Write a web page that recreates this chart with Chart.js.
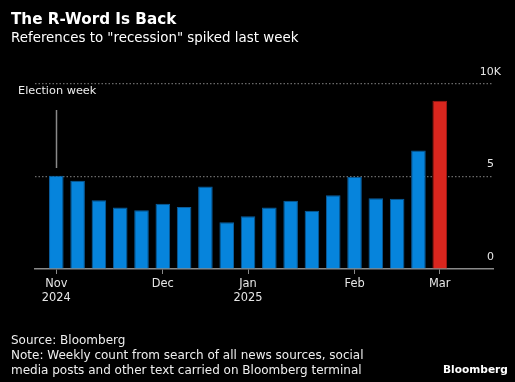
<!DOCTYPE html>
<html>
<head>
<meta charset="utf-8">
<script src="https://cdn.jsdelivr.net/npm/chart.js@4"></script>
<style>
  html, body { margin:0; padding:0; background:#000; }
  #wrap { position:relative; width:515px; height:382px; background:#000; overflow:hidden; font-family:"DejaVu Sans", sans-serif; }
  #wrap canvas { position:absolute; left:0; top:0; }
  .t { position:absolute; color:#fff; white-space:nowrap; line-height:1; }
</style>
</head>
<body>
<div id="wrap">
  <canvas id="c" width="515" height="382"></canvas>
  <div class="t" style="left:11px; top:12px; font-size:15.2px; font-weight:bold;">The R-Word Is Back</div>
  <div class="t" style="left:11px; top:31px; font-size:13.4px;">References to "recession" spiked last week</div>
  <div class="t" style="left:18px; top:85px; font-size:11.3px; color:#eee;">Election week</div>
  <div class="t" style="left:11px; top:334px; font-size:12px; color:#eee;">Source: Bloomberg</div>
  <div class="t" style="left:11px; top:348px; font-size:12px; color:#eee; line-height:15px;">Note: Weekly count from search of all news sources, social<br>media posts and other text carried on Bloomberg terminal</div>
  <div class="t" style="left:443px; top:364px; font-size:10.6px; font-weight:bold;">Bloomberg</div>
</div>
<script>
// Weekly mentions of "recession" (counts), one bar per week
const weeks = ['W1','W2','W3','W4','W5','W6','W7','W8','W9','W10','W11','W12','W13','W14','W15','W16','W17','W18','W19'];
const counts = [5040, 4770, 3710, 3320, 3170, 3530, 3350, 4460, 2530, 2850, 3320, 3690, 3150, 3980, 4990, 3830, 3800, 6400, 9100];
// month tick labels and the week index where each sits
const monthTickIndex = [0, 5, 9, 14, 18];
const monthTickLabels = [['Nov','2024'], ['Dec'], ['Jan','2025'], ['Feb'], ['Mar']];
const yTickValues = [0, 5000, 10000];
const yTickLabels = ['0  ', '5  ', '10K'];
const electionWeekIndex = 0;

const blue = '#0684dc', blueEdge = '#0b5d9c';
const red = '#d9261e', redEdge = '#9c1a14';
const lastIdx = counts.length - 1;

const points = counts.map((v, i) => ({ x: i, y: v }));

const electionLine = {
  id: 'electionLine',
  afterDatasetsDraw(chart) {
    const { ctx, scales } = chart;
    const x = Math.round(scales.x.getPixelForValue(electionWeekIndex)) + 0.5;
    ctx.save();
    ctx.strokeStyle = '#8a8a8a';
    ctx.lineWidth = 1.5;
    ctx.beginPath();
    ctx.moveTo(x, 110);
    ctx.lineTo(x, 168);
    ctx.stroke();
    ctx.restore();
  }
};

new Chart(document.getElementById('c'), {
  type: 'bar',
  data: {
    datasets: [{
      label: 'Recession mentions',
      data: points,
      backgroundColor: counts.map((v, i) => i === lastIdx ? red : blue),
      borderColor: counts.map((v, i) => i === lastIdx ? redEdge : blueEdge),
      borderWidth: 1,
      categoryPercentage: 1,
      barPercentage: 0.685
    }]
  },
  options: {
    responsive: false,
    animation: false,
    layout: { padding: { left: 35, right: 22, top: 84, bottom: 0 } },
    plugins: { legend: { display: false }, tooltip: { enabled: false } },
    scales: {
      x: {
        type: 'linear',
        offset: false,
        min: -1,
        max: 20.5,
        afterFit(scale) { scale.height = 113; },
        afterBuildTicks(scale) { scale.ticks = monthTickIndex.map(v => ({ value: v })); },
        ticks: {
          autoSkip: false,
          maxRotation: 0,
          color: '#e6e6e6',
          padding: 3,
          font: { family: 'DejaVu Sans', size: 11.4, lineHeight: '14px' },
          callback(value) {
            const k = monthTickIndex.indexOf(value);
            return k >= 0 ? monthTickLabels[k] : '';
          }
        },
        grid: { offset: false, drawOnChartArea: false, drawTicks: true, tickLength: 5, color: '#8a8a8a', lineWidth: 1 },
        border: { display: true, color: '#8a8a8a', width: 1.5 }
      },
      y: {
        position: 'right',
        min: 0,
        max: 10000,
        afterFit(scale) { scale.width = 0; },
        afterBuildTicks(scale) { scale.ticks = yTickValues.map(v => ({ value: v })); },
        ticks: {
          mirror: true,
          padding: 8,
          labelOffset: -12,
          color: '#e6e6e6',
          font: { family: 'DejaVu Sans', size: 11 },
          callback(value) {
            const k = yTickValues.indexOf(value);
            return k >= 0 ? yTickLabels[k] : '';
          }
        },
        grid: {
          drawTicks: false,
          color: ctx => (ctx.tick && ctx.tick.value === 0) ? 'rgba(0,0,0,0)' : '#6a6a6a',
          lineWidth: 1.2
        },
        border: { display: false, dash: [1.5, 2] }
      }
    }
  },
  plugins: [electionLine]
});
</script>
</body>
</html>
